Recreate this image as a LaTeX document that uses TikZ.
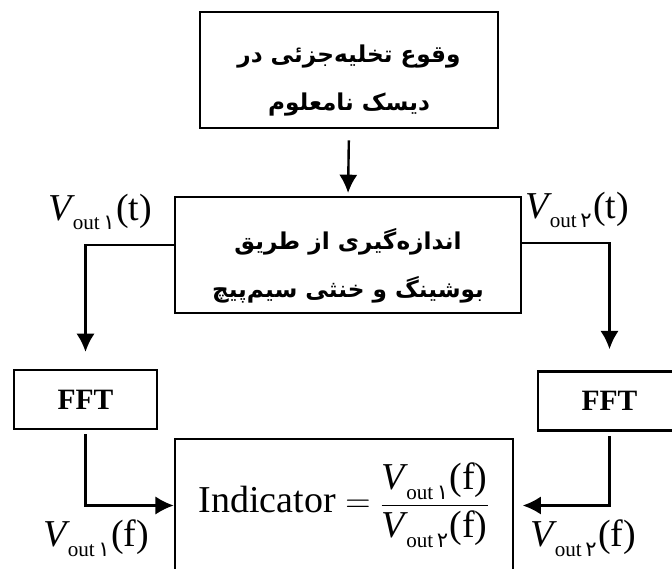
\documentclass[tikz,border=0pt]{standalone}
\usepackage{fontspec}
\setmainfont{Liberation Serif}
\newfontfamily\fafont[Script=Arabic]{DejaVu Sans}
\TeXXeTstate=1
\usetikzlibrary{arrows.meta}
\newcommand{\vsub}[1]{\raisebox{-7pt}{\fontsize{15}{15}\selectfont out\,{\fafont #1}}}
\newcommand{\vout}[2]{\textit{V}\kern-1.5pt\vsub{#1}\kern1pt(#2)}
\begin{document}
\begin{tikzpicture}[x=0.025cm,y=-0.025cm,line width=1.7pt,
  box/.style={draw,inner sep=0pt,align=center},
  fa/.style={font=\fafont\bfseries\fontsize{16.5}{34}\selectfont},
  lbl/.style={font=\fontsize{27}{32}\selectfont,inner sep=0pt},
  tip/.style={-{Latex[length=13pt,width=13pt]}}]
\useasboundingbox(0,0)rectangle(672,569);
\clip(0,0)rectangle(672,569);
\node[box,fa,minimum width=7.45cm,minimum height=2.9cm](pd)at(349,70)
  {\rule{0pt}{28pt}\beginR وقوع تخلیه‌جزئی در\endR\\\beginR دیسک نامعلوم\endR};
\node[box,fa,minimum width=8.65cm,minimum height=2.9cm](meas)at(348,255)
  {\rule{0pt}{30pt}\beginR اندازه‌گیری از طریق\endR\\\beginR بوشینگ و خنثی  سیم‌پیچ\endR};
\foreach \n/\x/\y in {fftL/85.5/399.5,fftR/609.5/401}{
  \node[box,font=\bfseries\fontsize{21}{25}\selectfont,minimum width=3.575cm,minimum height=1.475cm](\n)at(\x,\y){FFT};}
\node[box,font=\fontsize{27}{32}\selectfont,minimum width=8.45cm,minimum height=3.325cm](ind)at(344,505.5)
  {Indicator $=$ \raisebox{-1pt}{$\displaystyle\frac{\hbox{\vout{۱}{f}}\rule[-4pt]{0pt}{4pt}}{\hbox{\vout{۲}{f}}\rule{0pt}{22pt}}$}};
% arrows
\draw[tip,shorten <=8pt,shorten >=2pt](pd.south)--(meas.north);
\draw[tip,shorten >=12pt]([yshift=7pt]meas.west)-|(fftL.north);
\draw[tip,shorten >=15pt]([yshift=8.5pt]meas.east)-|(fftR.north);
\draw[tip,shorten <=3pt](fftL.south)|-(ind.west);
\draw[tip,shorten <=3pt,shorten >=6pt](fftR.south)|-(ind.east);
% signal labels
\foreach \n/\x/\y/\d/\a in {vt1/100/212/۱/t,vt2/577/210/۲/t,vf1/96/538/۱/f,vf2/583/538/۲/f}{
  \node[lbl](\n)at(\x,\y){\vout{\d}{\a}};}
\end{tikzpicture}
\end{document}
